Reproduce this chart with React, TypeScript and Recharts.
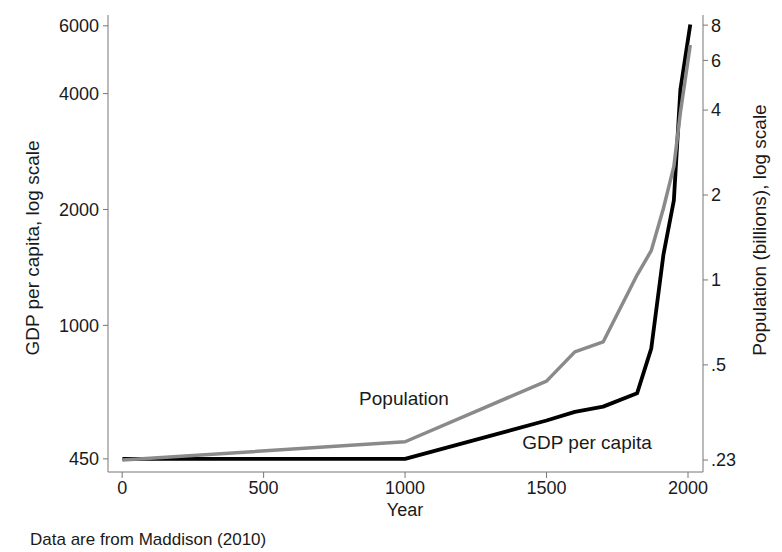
import React from 'react';
import { LineChart, Line, XAxis, YAxis } from 'recharts';

// Maddison (2010) world figures
const years = [1, 1000, 1500, 1600, 1700, 1820, 1870, 1913, 1950, 1973, 2008];
const gdpPerCapita = [450, 450, 566, 596, 615, 666, 870, 1524, 2111, 4091, 6050];
const populationBn = [0.23, 0.267, 0.438, 0.556, 0.603, 1.041, 1.27, 1.791, 2.525, 3.916, 6.8];

const yearTicks = [0, 500, 1000, 1500, 2000];
const gdpTicks = [450, 1000, 2000, 4000, 6000];
const popTicks = [0.23, 0.5, 1, 2, 4, 6, 8];

const data = years.map((year, i) => ({
  year,
  gdp: gdpPerCapita[i],
  pop: populationBn[i],
}));

const FONT = '"Liberation Sans", Arial, Helvetica, sans-serif';
const AXIS = '#777';
const tickStyle = { fill: '#1a1a1a', fontSize: 18, fontFamily: FONT };

const popFormat = (v: number) => String(v).replace(/^0\./, '.');

export default function App() {
  return (
    <div style={{ position: 'relative', width: 774, height: 544, fontFamily: FONT, color: '#1a1a1a' }}>
      <LineChart
        width={774}
        height={544}
        data={data}
        margin={{ top: 7, right: 19, bottom: 50, left: 40 }}
      >
        <XAxis
          dataKey="year"
          type="number"
          domain={[-50, 2053]}
          ticks={yearTicks}
          allowDataOverflow
          height={30}
          stroke={AXIS}
          tick={tickStyle}
          tickSize={6}
          tickMargin={3}
        />
        <YAxis
          yAxisId="gdp"
          orientation="left"
          type="number"
          scale="log"
          domain={[416, 6401]}
          ticks={gdpTicks}
          allowDataOverflow
          width={60}
          stroke={AXIS}
          tick={tickStyle}
          tickSize={5}
          tickMargin={4}
        />
        <YAxis
          yAxisId="pop"
          orientation="right"
          type="number"
          scale="log"
          domain={[0.2086, 8.69]}
          ticks={popTicks}
          tickFormatter={popFormat}
          allowDataOverflow
          width={60}
          stroke={AXIS}
          tick={tickStyle}
          tickSize={5}
          tickMargin={3}
        />
        <Line
          yAxisId="gdp"
          dataKey="gdp"
          stroke="#000"
          strokeWidth={3.8}
          strokeLinejoin="round"
          dot={false}
          isAnimationActive={false}
        />
        <Line
          yAxisId="pop"
          dataKey="pop"
          stroke="#8a8a8a"
          strokeWidth={3.5}
          strokeLinejoin="round"
          dot={false}
          isAnimationActive={false}
        />
      </LineChart>

      <div style={{ position: 'absolute', left: 25, top: 240, transform: 'translate(-50%, -50%) rotate(-90deg)', whiteSpace: 'nowrap', fontSize: 19 }}>
        GDP per capita, log scale
      </div>
      <div style={{ position: 'absolute', left: 752, top: 222, transform: 'translate(-50%, -50%) rotate(-90deg)', whiteSpace: 'nowrap', fontSize: 19 }}>
        Population (billions), log scale
      </div>
      <div style={{ position: 'absolute', left: 397, top: 502, transform: 'translate(-50%, -50%)', fontSize: 18 }}>
        Year
      </div>
      <div style={{ position: 'absolute', left: 396, top: 391, transform: 'translate(-50%, -50%)', whiteSpace: 'nowrap', fontSize: 19 }}>
        Population
      </div>
      <div style={{ position: 'absolute', left: 579, top: 435, transform: 'translate(-50%, -50%)', whiteSpace: 'nowrap', fontSize: 19 }}>
        GDP per capita
      </div>
      <div style={{ position: 'absolute', left: 22, top: 532, transform: 'translateY(-50%)', whiteSpace: 'nowrap', fontSize: 17 }}>
        Data are from Maddison (2010)
      </div>
    </div>
  );
}
